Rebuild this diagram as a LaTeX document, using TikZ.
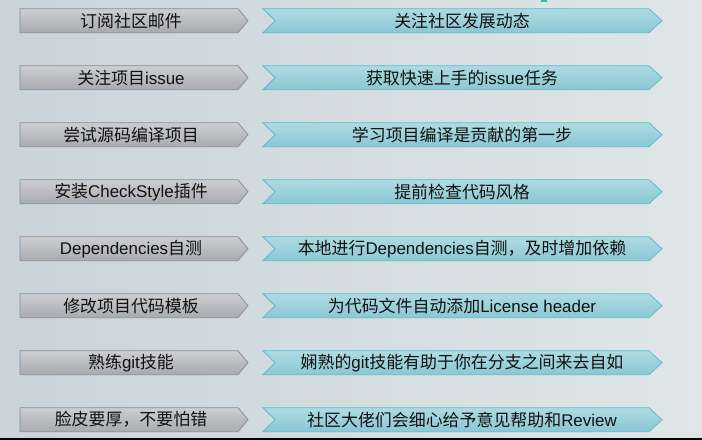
\documentclass[tikz,border=0pt]{standalone}
\usepackage{fontspec}
\setmainfont{Noto Sans CJK SC}
\newfontfamily\latfont{Liberation Sans}
\newcommand{\lat}[1]{{\latfont #1}}
\definecolor{bgl}{HTML}{C9D3D9}
\definecolor{bgr}{HTML}{DFE6E7}
\definecolor{graytop}{HTML}{CDCED2}
\definecolor{graybot}{HTML}{A8AAAF}
\definecolor{grayedge}{HTML}{8C8F94}
\definecolor{cyantop}{HTML}{AEDBE2}
\definecolor{cyanbot}{HTML}{8BC7D3}
\definecolor{cyanedge}{HTML}{5BBDCC}
\definecolor{txt}{HTML}{111111}
\definecolor{topmark}{HTML}{22C2BA}
\begin{document}
\begin{tikzpicture}[x=1bp,y=-1bp,
  graybox/.style={draw=grayedge, line width=0.8bp, top color=graytop, bottom color=graybot},
  cyanbox/.style={draw=cyanedge, line width=0.8bp, top color=cyantop, bottom color=cyanbot},
  lbl/.style={font=\fontsize{17}{19}\selectfont, text=txt, inner sep=0pt}]
\useasboundingbox (0,0) rectangle (702,440);
\path[left color=bgl, right color=bgr] (0,0) rectangle (702,440);
\fill[black] (0,437.5) rectangle (702,440);
\fill[topmark] (541,0) rectangle (547,2);
\foreach \i/\a/\b in {
  1/订阅社区邮件/关注社区发展动态,
  2/关注项目\lat{issue}/获取快速上手的\lat{issue}任务,
  3/尝试源码编译项目/学习项目编译是贡献的第一步,
  4/安装\lat{CheckStyle}插件/提前检查代码风格,
  5/\lat{Dependencies}自测/本地进行\lat{Dependencies}自测，及时增加依赖,
  6/修改项目代码模板/为代码文件自动添加\lat{License header},
  7/熟练\lat{git}技能/娴熟的\lat{git}技能有助于你在分支之间来去自如,
  8/脸皮要厚，不要怕错/社区大佬们会细心给予意见帮助和\lat{Review}}{
  \pgfmathsetmacro\yc{20.7+57*(\i-1)}
  \path[graybox] (20,\yc-12) -- (238,\yc-12) -- (248,\yc) -- (238,\yc+12) -- (20,\yc+12) -- cycle;
  \path[cyanbox] (263,\yc-12) -- (649,\yc-12) -- (662,\yc) -- (649,\yc+12) -- (263,\yc+12) -- (275,\yc) -- cycle;
  \node[lbl] (g\i) at (131,\yc) {\a};
  \node[lbl] (c\i) at (462,\yc) {\b};
}
\end{tikzpicture}
\end{document}
